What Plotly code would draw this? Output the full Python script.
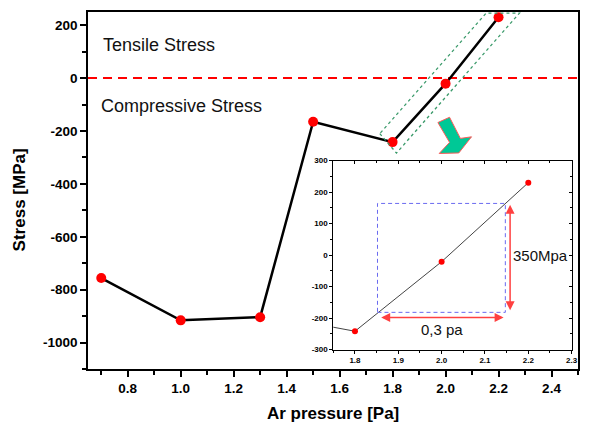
import plotly.graph_objects as go

# Data
pressure = [0.7, 1.0, 1.3, 1.5, 1.8, 2.0, 2.2]
stress = [-756, -916, -904, -165, -242, -21, 230]

main_x_ticks = [0.8, 1.0, 1.2, 1.4, 1.6, 1.8, 2.0, 2.2, 2.4]
main_y_ticks = [-1000, -800, -600, -400, -200, 0, 200]
inset_x_ticks = [1.8, 1.9, 2.0, 2.1, 2.2, 2.3]
inset_y_ticks = [-300, -200, -100, 0, 100, 200, 300]

FONT = "Liberation Sans, Arial, sans-serif"

fig = go.Figure()

fig.add_trace(go.Scatter(
    x=pressure, y=stress, mode="lines+markers",
    line=dict(color="black", width=2.5),
    marker=dict(color="#FF0000", size=10),
    xaxis="x", yaxis="y", showlegend=False, cliponaxis=False))

fig.add_trace(go.Scatter(
    x=pressure, y=stress, mode="lines+markers",
    line=dict(color="#444444", width=1),
    marker=dict(color="#FF0000", size=6),
    xaxis="x2", yaxis="y2", showlegend=False))

# invisible trace to hold the inward-tick mirror axes of the inset
fig.add_trace(go.Scatter(
    x=[pressure[-1]], y=[stress[-1]], mode="markers", marker=dict(opacity=0),
    xaxis="x3", yaxis="y3", showlegend=False, hoverinfo="skip"))

tickfont_main = dict(family=FONT, size=13.5, color="black", weight="bold")
tickfont_inset = dict(family=FONT, size=8, color="black", weight="bold")

inset_xdom = [0.5006, 0.987]
inset_ydom = [0.0546, 0.5837]

# page body adds an 8px margin, so the figure is 8px smaller and shifted
fig.update_layout(
    width=581, height=420,
    margin=dict(l=80, r=11, t=0, b=59),
    paper_bgcolor="white", plot_bgcolor="white",
    xaxis=dict(range=[0.65, 2.5], tickvals=main_x_ticks,
               ticktext=[f"{v:.1f}" for v in main_x_ticks],
               ticks="outside", ticklen=6, tickwidth=1.5, tickcolor="black",
               minor=dict(dtick=0.1, tick0=0, ticks="outside", ticklen=4, tickwidth=1.5, tickcolor="black"),
               showline=True, linecolor="black", linewidth=1.5, mirror=True,
               showgrid=False, zeroline=False, tickfont=tickfont_main),
    yaxis=dict(range=[-1100, 250], tickvals=main_y_ticks,
               ticktext=[str(v) for v in main_y_ticks],
               ticks="outside", ticklen=6, tickwidth=1.5, tickcolor="black",
               minor=dict(dtick=100, tick0=0, ticks="outside", ticklen=4, tickwidth=1.5, tickcolor="black"),
               showline=True, linecolor="black", linewidth=1.5, mirror=True,
               showgrid=False, zeroline=False, tickfont=tickfont_main),
    xaxis2=dict(domain=inset_xdom, anchor="y2", range=[1.75, 2.3],
                tickvals=inset_x_ticks, ticktext=[f"{v:.1f}" for v in inset_x_ticks],
                ticks="outside", ticklen=3, tickwidth=1, tickcolor="black",
                minor=dict(dtick=0.05, tick0=0, ticks="outside", ticklen=2, tickcolor="black"),
                showline=True, linecolor="black", linewidth=1, mirror=True,
                showgrid=False, zeroline=False, tickfont=tickfont_inset),
    yaxis2=dict(domain=inset_ydom, anchor="x2", range=[-300, 300],
                tickvals=inset_y_ticks, ticktext=[str(v) for v in inset_y_ticks],
                ticks="outside", ticklen=3, tickwidth=1, tickcolor="black",
                minor=dict(dtick=50, tick0=0, ticks="outside", ticklen=2, tickcolor="black"),
                showline=True, linecolor="black", linewidth=1, mirror=True,
                showgrid=False, zeroline=False, tickfont=tickfont_inset),
    xaxis3=dict(domain=inset_xdom, anchor="y3", overlaying="x2", side="top", range=[1.75, 2.3],
                tickvals=inset_x_ticks, ticks="inside", ticklen=3, tickwidth=1, tickcolor="black",
                minor=dict(dtick=0.05, tick0=0, ticks="inside", ticklen=2, tickcolor="black"),
                showticklabels=False, showline=False, showgrid=False, zeroline=False),
    yaxis3=dict(domain=inset_ydom, anchor="x3", overlaying="y2", side="right", range=[-300, 300],
                tickvals=inset_y_ticks, ticks="inside", ticklen=3, tickwidth=1, tickcolor="black",
                minor=dict(dtick=50, tick0=0, ticks="inside", ticklen=2, tickcolor="black"),
                showticklabels=False, showline=False, showgrid=False, zeroline=False),
)

shapes = []
shapes.append(dict(type="line", xref="paper", yref="y", x0=0, x1=1, y0=0, y1=0,
                   line=dict(color="#FF0000", width=2, dash="9px,6px"), layer="below"))
shapes.append(dict(type="path", xref="x", yref="y",
                   path="M 1.7517,-209.7 L 1.8146,-283.5 L 2.2789,246 L 2.1535,246 Z",
                   line=dict(color="#3A9A6A", width=1.3, dash="dot")))
shapes.append(dict(type="path", xref="x", yref="y",
                   path=("M 1.9710,-168 L 2.0150,-148 L 2.0560,-228 L 2.0980,-222 "
                         "L 2.0500,-283 L 1.9760,-285 L 2.0150,-243 Z"),
                   fillcolor="#00C896", line=dict(color="#FF5A5A", width=1)))
shapes.append(dict(type="rect", xref="x2", yref="y2", x0=1.852, x1=2.147, y0=-182, y1=164,
                   line=dict(color="#6A6AF0", width=1, dash="4px,3px")))
fig.update_layout(shapes=shapes)

annotations = [
    dict(text="Tensile Stress", xref="x", yref="y", x=0.70, y=125, xanchor="left", yanchor="middle",
         showarrow=False, font=dict(family=FONT, size=18, color="#111111")),
    dict(text="Compressive Stress", xref="x", yref="y", x=0.690, y=-105, xanchor="left", yanchor="middle",
         showarrow=False, font=dict(family=FONT, size=18, color="#111111")),
    dict(text="Stress [MPa]", xref="paper", yref="paper", x=-0.1408, y=0.4723, textangle=-90,
         xanchor="center", yanchor="middle", showarrow=False,
         font=dict(family=FONT, size=17, color="black", weight="bold")),
    dict(text="Ar pressure [Pa]", xref="paper", yref="paper", x=0.499, y=-0.1247,
         xanchor="center", yanchor="middle", showarrow=False,
         font=dict(family=FONT, size=17, color="black", weight="bold")),
    dict(text="350Mpa", xref="x2", yref="y2", x=2.161, y=-2, xanchor="left", yanchor="middle",
         showarrow=False, font=dict(family=FONT, size=15, color="#111111")),
    dict(text="0,3 pa", xref="x2", yref="y2", x=2.0, y=-238, xanchor="center", yanchor="middle",
         showarrow=False, font=dict(family=FONT, size=15, color="#111111")),
    dict(text="", xref="x2", yref="y2", axref="x2", ayref="y2",
         x=2.158, y=160, ax=2.158, ay=-180, showarrow=True, arrowside="end+start",
         arrowhead=2, arrowsize=1.2, arrowwidth=1.5, arrowcolor="#FF4040"),
    dict(text="", xref="x2", yref="y2", axref="x2", ayref="y2",
         x=2.143, y=-198, ax=1.857, ay=-198, showarrow=True, arrowside="end+start",
         arrowhead=2, arrowsize=1.2, arrowwidth=1.5, arrowcolor="#FF4040"),
]
fig.update_layout(annotations=annotations)

fig.write_html("out.html")
